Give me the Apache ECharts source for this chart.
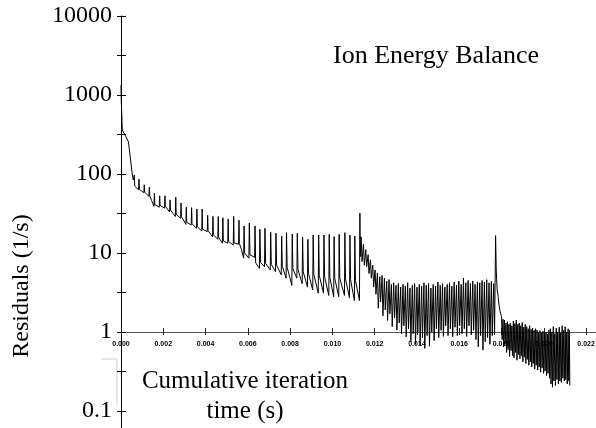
<!DOCTYPE html>
<html><head><meta charset="utf-8">
<script src="https://cdn.jsdelivr.net/npm/echarts@6/dist/echarts.min.js"></script>
<style>html,body{margin:0;padding:0;background:#fff}#c{width:596px;height:428px}</style>
</head><body><div id="c"></div>
<script>
// ---- data: [time (s), residual (1/s)] ----
const initialDecay = [
  [0, 1340], [0.00001, 900], [0.00003, 640], [0.00006, 360], [0.00011, 345],
  [0.00014, 355], [0.00022, 300], [0.00027, 286], [0.00035, 256], [0.00041, 190],
  [0.00047, 137], [0.00053, 100], [0.00058, 84], [0.00062, 80]
];
const spikeTrain = [
  [0.00063, 97], [0.00065, 70], [0.00083, 63],
  [0.00085, 86], [0.00087, 64], [0.00108, 58],
  [0.00110, 73], [0.00112, 59], [0.00132, 52],
  [0.00134, 68], [0.00136, 53], [0.00145, 46], [0.00156, 39],
  [0.00158, 57], [0.00160, 41], [0.00181, 38],
  [0.00183, 53], [0.00185, 40], [0.00206, 37],
  [0.00208, 53], [0.00210, 39], [0.00230, 33],
  [0.00232, 47], [0.00234, 35], [0.00257, 29],
  [0.00259, 51], [0.00261, 31], [0.00282, 27.5],
  [0.00284, 43], [0.00286, 29], [0.00307, 23],
  [0.00309, 38], [0.00311, 24.5], [0.00332, 22.6],
  [0.00334, 37.5], [0.00336, 23.5], [0.00357, 20.5],
  [0.00359, 36], [0.00361, 21.5], [0.00382, 19],
  [0.00384, 36], [0.00386, 20], [0.00408, 18.6],
  [0.00410, 30], [0.00412, 19.2], [0.00433, 16],
  [0.00435, 29], [0.00437, 17], [0.00458, 14.9],
  [0.00460, 29], [0.00462, 15.8], [0.00480, 13.3],
  [0.00482, 28], [0.00484, 14.2], [0.00505, 13.3],
  [0.00507, 27], [0.00509, 14], [0.00531, 12.6],
  [0.00533, 29], [0.00535, 13.4], [0.00556, 12.9],
  [0.00558, 26], [0.00560, 13.2], [0.00570, 11], [0.00580, 8.6],
  [0.00582, 22], [0.00585, 10], [0.00605, 8.6],
  [0.00607, 24], [0.00610, 9.5], [0.00632, 8.8],
  [0.00634, 22], [0.00637, 7.5], [0.00655, 6.4],
  [0.00657, 20], [0.00660, 7.6], [0.00679, 6.7],
  [0.00681, 20.5], [0.00684, 7.4], [0.00706, 6.1],
  [0.00708, 18.3], [0.00711, 7.2], [0.00731, 5.8],
  [0.00733, 17.8], [0.00736, 7.0], [0.00758, 5.3],
  [0.00760, 16.4], [0.00763, 6.8], [0.00781, 4.8],
  [0.00783, 18.1], [0.00786, 6.6], [0.00808, 3.9],
  [0.00810, 17.4], [0.00813, 6.3], [0.00832, 4.8],
  [0.00834, 17.8], [0.00837, 6.2], [0.00857, 4.1],
  [0.00859, 15.8], [0.00862, 5.8], [0.00882, 3.7],
  [0.00884, 14.9], [0.00887, 5.5], [0.00907, 3.4],
  [0.00909, 16.9], [0.00912, 5.4], [0.00933, 3.1],
  [0.00935, 16.9], [0.00938, 5.2], [0.00958, 3.1],
  [0.00960, 16.9], [0.00963, 5.0], [0.00983, 2.9],
  [0.00985, 17.2], [0.00988, 4.9], [0.01006, 2.8],
  [0.01008, 16.1], [0.01011, 4.8], [0.01030, 2.8],
  [0.01032, 17.2], [0.01035, 4.8], [0.01057, 2.9],
  [0.01059, 18.1], [0.01062, 4.7], [0.01081, 2.7],
  [0.01083, 16.9], [0.01086, 4.6], [0.01104, 2.5],
  [0.01106, 16.4], [0.01109, 4.5], [0.01128, 2.5],
  [0.01130, 32]
];
const denseBand = [
  [0.01132, 9], [0.01136, 16], [0.01140, 7.8], [0.01147, 13], [0.01151, 7.0],
  [0.01158, 11], [0.01162, 6.7], [0.01169, 9.5], [0.01173, 5.5], [0.01180, 8.2],
  [0.01184, 4.8], [0.01191, 7.0], [0.01195, 3.7], [0.01202, 6.1], [0.01206, 3.0],
  [0.01213, 5.6], [0.01217, 2.0], [0.01224, 5.0], [0.01228, 2.4], [0.01235, 5.2],
  [0.01239, 1.6], [0.01246, 4.8], [0.01250, 1.9], [0.01257, 4.4], [0.01261, 1.4],
  [0.01268, 4.6], [0.01272, 1.7], [0.01279, 4.0], [0.01283, 1.17], [0.01290, 4.2],
  [0.01294, 1.5], [0.01301, 3.9], [0.01305, 1.06], [0.01312, 4.1], [0.01316, 1.3],
  [0.01323, 3.7], [0.01327, 0.95], [0.01334, 4.0], [0.01338, 1.2], [0.01345, 3.8],
  [0.01349, 0.87], [0.01356, 4.2], [0.01360, 1.1], [0.01367, 3.6], [0.01371, 0.75],
  [0.01378, 3.9], [0.01382, 0.95], [0.01389, 4.1], [0.01393, 0.7], [0.01400, 3.7],
  [0.01404, 1.0], [0.01411, 4.0], [0.01415, 0.68], [0.01422, 3.8], [0.01426, 0.85],
  [0.01433, 4.2], [0.01437, 0.62], [0.01444, 3.9], [0.01448, 0.9], [0.01455, 4.1],
  [0.01459, 0.66], [0.01466, 3.6], [0.01470, 1.0], [0.01477, 4.0], [0.01481, 0.78],
  [0.01488, 3.8], [0.01492, 1.1], [0.01499, 4.3], [0.01503, 0.85], [0.01510, 3.9],
  [0.01514, 1.05], [0.01521, 4.1], [0.01525, 0.88], [0.01532, 3.7], [0.01536, 1.2],
  [0.01543, 4.0], [0.01547, 0.9], [0.01554, 4.2], [0.01558, 1.1], [0.01565, 3.8],
  [0.01569, 0.87], [0.01576, 4.3], [0.01580, 1.15], [0.01587, 3.9], [0.01591, 0.9],
  [0.01598, 4.4], [0.01602, 1.2], [0.01609, 4.0], [0.01613, 0.95], [0.01620, 4.8],
  [0.01624, 1.1], [0.01631, 4.2], [0.01635, 0.88], [0.01642, 4.5], [0.01646, 1.2],
  [0.01653, 4.1], [0.01657, 0.92], [0.01664, 4.4], [0.01668, 1.05], [0.01675, 4.0],
  [0.01679, 0.8], [0.01686, 4.3], [0.01690, 0.65], [0.01697, 4.2], [0.01701, 0.9],
  [0.01708, 4.5], [0.01712, 0.59], [0.01719, 4.3], [0.01723, 0.75], [0.01730, 4.6],
  [0.01734, 0.85], [0.01741, 4.2], [0.01745, 0.7], [0.01752, 4.4], [0.01756, 0.9],
  [0.01763, 4.1], [0.01767, 0.92], [0.01772, 16.6]
];
const tailNoise = [
  [0.01775, 6.1], [0.01779, 3.5], [0.01784, 2.8], [0.01788, 2.2], [0.01792, 1.9],
  [0.01796, 1.7], [0.01800, 1.56], [0.01803, 0.8], [0.01807, 1.45], [0.01810, 0.65],
  [0.01814, 1.42], [0.01817, 0.7], [0.01821, 1.3], [0.01824, 0.55], [0.01828, 1.35],
  [0.01831, 0.6], [0.01835, 1.25], [0.01838, 0.49], [0.01842, 1.3], [0.01845, 0.58],
  [0.01849, 1.2], [0.01852, 0.5], [0.01856, 1.38], [0.01859, 0.47], [0.01863, 1.28],
  [0.01866, 0.55], [0.01870, 1.42], [0.01873, 0.44], [0.01877, 1.25], [0.01880, 0.52],
  [0.01884, 1.3], [0.01887, 0.46], [0.01891, 1.2], [0.01894, 0.5], [0.01898, 1.32],
  [0.01901, 0.42], [0.01905, 1.15], [0.01908, 0.48], [0.01912, 1.25], [0.01915, 0.4],
  [0.01919, 1.17], [0.01922, 0.45], [0.01926, 1.1], [0.01929, 0.38], [0.01933, 1.2],
  [0.01936, 0.42], [0.01940, 1.08], [0.01943, 0.36], [0.01947, 1.12], [0.01950, 0.4],
  [0.01954, 1.05], [0.01957, 0.34], [0.01961, 1.1], [0.01964, 0.38], [0.01968, 1.06],
  [0.01971, 0.33], [0.01975, 1.0], [0.01978, 0.36], [0.01982, 1.04], [0.01985, 0.31],
  [0.01989, 0.98], [0.01992, 0.35], [0.01996, 1.02], [0.01999, 0.3], [0.02003, 0.96],
  [0.02006, 0.32], [0.02010, 1.0], [0.02013, 0.28], [0.02017, 0.94], [0.02020, 0.3],
  [0.02024, 1.05], [0.02027, 0.26], [0.02031, 1.1], [0.02034, 0.22], [0.02038, 1.0],
  [0.02041, 0.2], [0.02045, 1.17], [0.02048, 0.24], [0.02052, 0.95], [0.02055, 0.21],
  [0.02059, 1.12], [0.02062, 0.25], [0.02066, 1.0], [0.02069, 0.22], [0.02073, 1.15],
  [0.02076, 0.24], [0.02080, 0.98], [0.02083, 0.23], [0.02087, 1.2], [0.02090, 0.26],
  [0.02094, 1.05], [0.02097, 0.24], [0.02101, 1.17], [0.02104, 0.25], [0.02108, 1.0],
  [0.02111, 0.22], [0.02115, 1.1], [0.02118, 0.24], [0.02121, 1.06], [0.02123, 0.21]
];
const xTickLabels = ['0.000','0.002','0.004','0.006','0.008','0.010','0.012','0.014','0.016','0.018','0.020','0.022'];
const xStep = 0.002;
const yTickLabels = ['0.1','1','10','100','1000','10000'];
const yDecades = [-1, 0, 1, 2, 3, 4];
const titleText = 'Ion Energy Balance';
const yName = 'Residuals (1/s)';
const xName = 'Cumulative iteration\ntime (s)';

const serif = "'Liberation Serif','Times New Roman',serif";
const sans = "'Liberation Sans',Arial,sans-serif";
const X_MAX = 0.0228;
const Y_MIN_LOG = -1.5, Y_MAX_LOG = 4;
const X_OFFSET = -118.5;

function xLabel(v) {
  const i = Math.round(v / xStep);
  return (Math.abs(v - i * xStep) < 1e-9 && i < xTickLabels.length) ? xTickLabels[i] : '';
}
function yLabel(v) {
  const l = Math.log10(v), k = Math.round(l);
  if (Math.abs(l - k) > 0.01) return '';
  const idx = yDecades.indexOf(k);
  return idx >= 0 ? yTickLabels[idx] : '';
}
function xAxisBase(extra) {
  return Object.assign({
    type: 'value', min: 0, max: X_MAX, interval: xStep, position: 'bottom', offset: X_OFFSET,
    splitLine: { show: false }
  }, extra);
}
function yHelper(inside, len) {
  return {
    type: 'value', min: Y_MIN_LOG, max: Y_MAX_LOG, interval: 0.5, position: 'left',
    axisLine: { show: false, onZero: false }, axisLabel: { show: false }, splitLine: { show: false },
    axisTick: { show: true, inside: inside, length: len, lineStyle: { color: '#000', width: 1 } }
  };
}

const chart = echarts.init(document.getElementById('c'), null, { renderer: 'canvas' });
chart.setOption({
  animation: false,
  backgroundColor: '#fff',
  grid: { left: 121, top: 16, width: 482, height: 434.5, containLabel: false, outerBoundsMode: 'none' },
  xAxis: [
    xAxisBase({
      axisLine: { show: true, onZero: false, lineStyle: { color: '#555', width: 1 } },
      axisTick: { show: true, inside: false, length: 3, lineStyle: { color: '#222' } },
      axisLabel: { show: true, margin: 9, formatter: xLabel, showMaxLabel: false,
        fontFamily: sans, fontWeight: 'bold', fontSize: 7, color: '#000' }
    }),
    xAxisBase({
      axisLine: { show: false, onZero: false },
      axisTick: { show: true, inside: true, length: 4, lineStyle: { color: '#222' } },
      axisLabel: { show: false }
    })
  ],
  yAxis: [
    {
      type: 'log', logBase: 10, min: Math.pow(10, Y_MIN_LOG), max: Math.pow(10, Y_MAX_LOG), position: 'left',
      axisLine: { show: true, onZero: false, lineStyle: { color: '#000', width: 1 } },
      axisTick: { show: false }, splitLine: { show: false }, minorTick: { show: false },
      axisLabel: { show: true, margin: 9, formatter: yLabel, showMinLabel: false,
        fontFamily: serif, fontSize: 24, color: '#000' }
    },
    yHelper(false, 4),
    yHelper(true, 5)
  ],
  series: [{
    type: 'line', xAxisIndex: 0, yAxisIndex: 0, showSymbol: false, symbol: 'none',
    sampling: null, clip: true,
    lineStyle: { color: '#000', width: 1 },
    data: [].concat(initialDecay, spikeTrain, denseBand, tailNoise)
  }],
  graphic: [
    { type: 'text', x: 333, y: 56, silent: true,
      style: { text: titleText, fontFamily: serif, fontSize: 26, fill: '#000', align: 'left', verticalAlign: 'middle' } },
    { type: 'text', x: 22, y: 286, rotation: Math.PI / 2, silent: true,
      style: { text: yName, fontFamily: serif, fontSize: 24, fill: '#000', align: 'center', verticalAlign: 'middle' } },
    { type: 'polyline', silent: true, shape: { points: [[101, 359], [117, 359], [117, 405]] },
      style: { stroke: '#cfcfcf', lineWidth: 1, fill: null } },
    { type: 'text', x: 245, y: 396, silent: true,
      style: { text: xName, fontFamily: serif, fontSize: 25, lineHeight: 30, fill: '#000', align: 'center', verticalAlign: 'middle' } }
  ]
});
</script>
</body></html>
